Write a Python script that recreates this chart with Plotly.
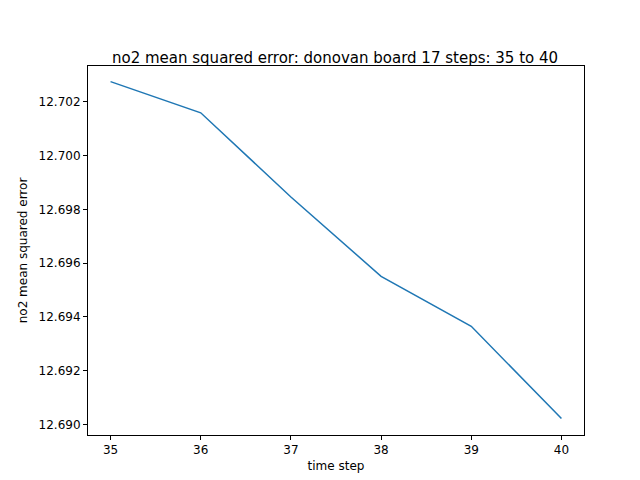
import plotly.graph_objects as go

steps = [35, 36, 37, 38, 39, 40]
mse = [12.70275, 12.70159, 12.69846, 12.69551, 12.69365, 12.69022]

fig = go.Figure()
fig.add_trace(go.Scatter(x=steps, y=mse, mode="lines",
                         line=dict(color="#1f77b4", width=1.5)))

axis_style = dict(showgrid=False, zeroline=False, showline=True, linecolor="black",
                  linewidth=1, mirror=True, ticks="outside", ticklen=4,
                  tickcolor="black", tickfont=dict(size=12, color="black"),
                  automargin=False)

fig.update_layout(
    width=640, height=480,
    paper_bgcolor="white", plot_bgcolor="white",
    font=dict(family="DejaVu Sans", color="black"),
    showlegend=False,
    margin=dict(l=80, r=64, t=58, b=53),
    title=dict(text="no2 mean squared error: donovan board 17 steps: 35 to 40",
               x=0.511, xanchor="center", y=0.885, yanchor="bottom",
               font=dict(size=15)),
    xaxis=dict(axis_style, title=dict(text="time step", font=dict(size=12), standoff=5),
               tickvals=steps, range=[34.75, 40.25]),
    yaxis=dict(axis_style, title=dict(text="no2 mean squared error", font=dict(size=12), standoff=8),
               tickvals=[12.690, 12.692, 12.694, 12.696, 12.698, 12.700, 12.702],
               tickformat=".3f", range=[12.68961, 12.70333]),
)

fig.write_html("out.html")
